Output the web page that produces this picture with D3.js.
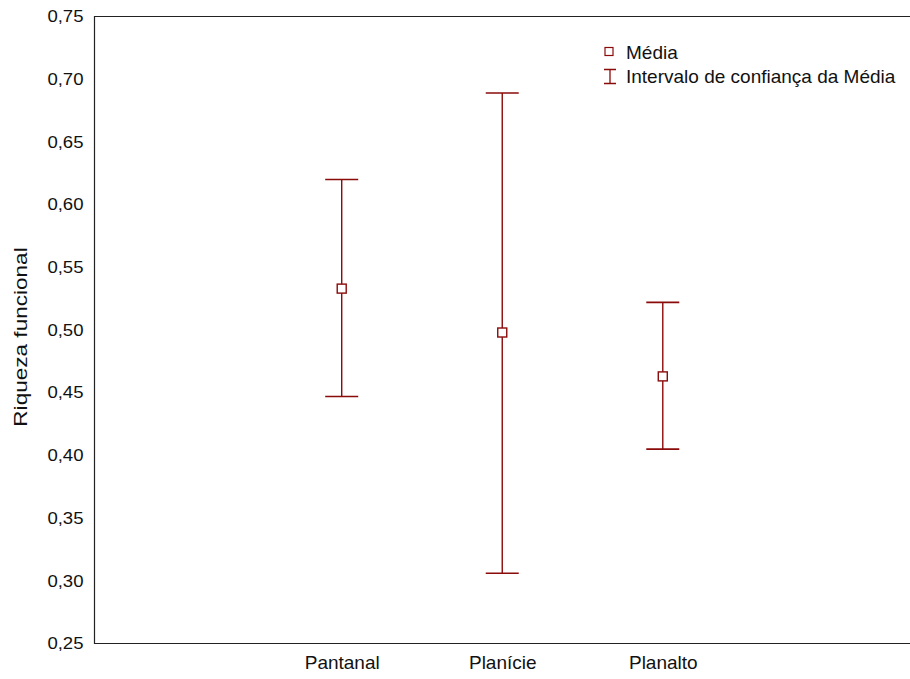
<!DOCTYPE html>
<html><head><meta charset="utf-8">
<script src="https://cdn.jsdelivr.net/npm/d3@7"></script>
<style>body{margin:0;background:#fff}svg{display:block}text{font-family:"Liberation Sans",Arial,sans-serif}</style>
</head><body><svg id="c" width="910" height="679"></svg>
<script>
const categories = ["Pantanal", "Planície", "Planalto"];
const means = [0.533, 0.498, 0.463];
const lower = [0.447, 0.306, 0.405];
const upper = [0.620, 0.689, 0.522];
const yTicks = [0.25, 0.30, 0.35, 0.40, 0.45, 0.50, 0.55, 0.60, 0.65, 0.70, 0.75];

const color = "#8b0a0a";
const svg = d3.select("#c");
const L = 94.5, R = 910, T = 16.5, B = 643.5;
const x = d3.scalePoint().domain(categories).range([L, R]).padding(1.54);
const y = d3.scaleLinear().domain([0.25, 0.75]).range([B, T]);
const fmt = d => d3.format(".2f")(d).replace(".", ",");

// frame
svg.append("path").attr("d", `M${R},${T}H${L}V${B}H${R}`).attr("fill", "none").attr("stroke", "#222").attr("stroke-width", 1.2);

// y tick labels (slightly widened glyphs as in the reference)
const yl = svg.append("g");
yTicks.forEach(v => {
  yl.append("g").attr("transform", `translate(${L - 11},${y(v)}) scale(1.16,1)`)
    .append("text").attr("text-anchor", "end").attr("dy", "0.36em")
    .attr("font-size", 16).attr("fill", "#111").text(fmt(v));
});

// x axis labels
const xa = svg.append("g").attr("transform", `translate(0,${B})`)
  .call(d3.axisBottom(x).tickSize(0).tickPadding(12));
xa.select(".domain").remove();
xa.selectAll("text").attr("font-size", 19).attr("fill", "#111").attr("dy", "0.71em")
  .attr("font-family", '"Liberation Sans",Arial,sans-serif');

// y title
svg.append("text").attr("transform", `translate(27,${337}) rotate(-90) scale(1.22,1)`)
  .attr("text-anchor", "middle").attr("font-size", 18.5).attr("fill", "#111").text("Riqueza funcional");

// error bars
const g = svg.append("g");
categories.forEach((c, i) => {
  const cx = x(c);
  g.append("line").attr("x1", cx).attr("x2", cx).attr("y1", y(upper[i])).attr("y2", y(lower[i]))
    .attr("stroke", color).attr("stroke-width", 1.4);
  [upper[i], lower[i]].forEach(v => g.append("line").attr("x1", cx - 16.5).attr("x2", cx + 16.5)
    .attr("y1", y(v)).attr("y2", y(v)).attr("stroke", color).attr("stroke-width", 1.6));
  g.append("rect").attr("x", cx - 4.5).attr("y", y(means[i]) - 4.5).attr("width", 9).attr("height", 9)
    .attr("fill", "#fff").attr("stroke", color).attr("stroke-width", 1.4);
});

// legend
const lg = svg.append("g");
lg.append("rect").attr("x", 605).attr("y", 47.5).attr("width", 8).attr("height", 8)
  .attr("fill", "#fff").attr("stroke", color).attr("stroke-width", 1.2);
lg.append("text").attr("x", 626).attr("y", 59).attr("font-size", 19).attr("fill", "#111").text("Média");
lg.append("path").attr("d", "M604,69.5H616M610,69.5V83.5M604,83.5H616").attr("fill", "none").attr("stroke", color).attr("stroke-width", 1.3);
lg.append("text").attr("x", 626).attr("y", 83).attr("font-size", 19).attr("fill", "#111").text("Intervalo de confiança da Média");
</script></body></html>
